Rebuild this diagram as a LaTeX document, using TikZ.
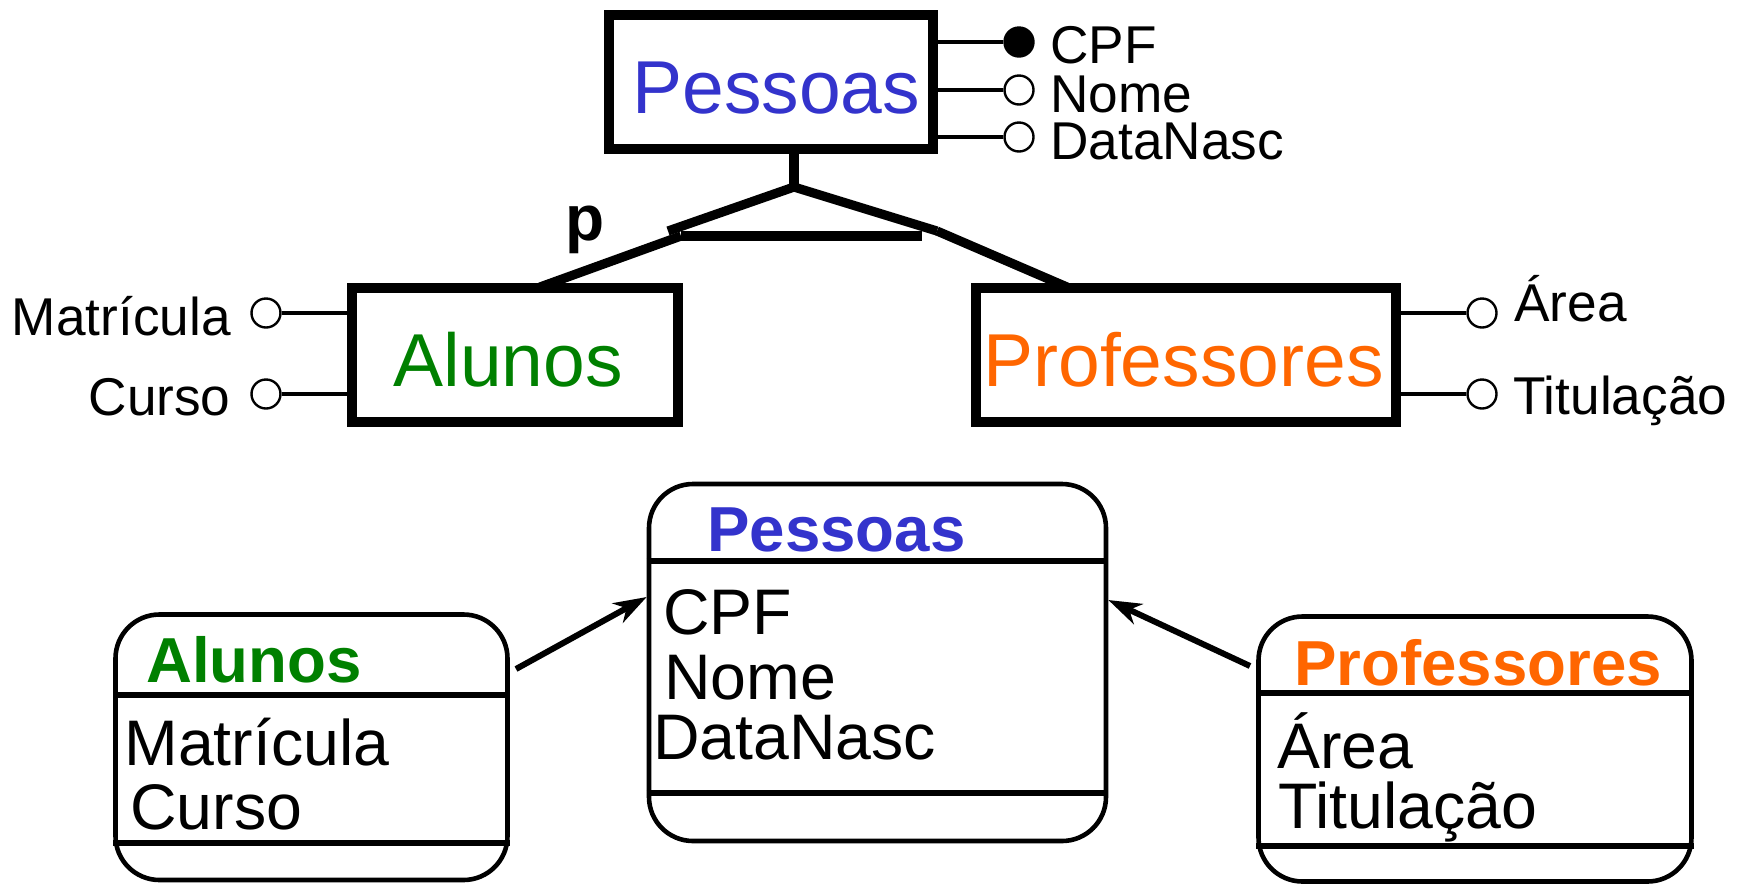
\documentclass[tikz,border=0pt]{standalone}
\usepackage{fontspec}
\setmainfont{Liberation Sans}
\usetikzlibrary{arrows.meta}
\definecolor{pblue}{RGB}{51,51,204}
\definecolor{agreen}{RGB}{0,128,0}
\definecolor{porange}{RGB}{255,102,0}
\begin{document}
\begin{tikzpicture}[x=0.5pt,y=-0.5pt,
  entbox/.style={draw, line width=5pt, inner sep=0, minimum height=67pt},
  attrc/.style={draw, circle, line width=1.2pt, fill=white, inner sep=0, minimum size=14.5pt},
  keyc/.style={attrc, fill=black},
  attrline/.style={line width=1.8pt},
  spec/.style={line width=4.6pt},
  attrtxt/.style={inner sep=0, font=\fontsize{26.6pt}{30pt}\selectfont},
  etitle/.style={inner sep=0, font=\fontsize{37.5pt}{42pt}\selectfont},
  umlbox/.style={draw, line width=2.3pt, rounded corners=22pt, inner sep=0},
  umldiv/.style={line width=2.8pt},
  btitle/.style={inner sep=0, font=\bfseries\fontsize{31.8pt}{36pt}\selectfont},
  battr/.style={inner sep=0, font=\fontsize{32.2pt}{36pt}\selectfont},
  isa/.style={line width=3pt, -{Stealth[length=16.5pt, width=11pt, inset=5pt]}}
]
\useasboundingbox (0,0) rectangle (1737,885);

% ---------- ER diagram ----------
\node[entbox, minimum width=162pt] (pes) at (771,82) {};
\node[etitle, anchor=base west, text=pblue] (pest) at (632,113) {Pessoas};
\node[entbox, minimum width=163pt] (alu) at (515,354.5) {};
\node[etitle, anchor=base west, text=agreen] (alut) at (393,386) {Alunos};
\node[entbox, minimum width=210pt] (pro) at (1186,354.5) {};
\node[etitle, anchor=base west, text=porange] (prot) at (983,386) {Professores};

% attributes of Pessoas
\node[keyc] (cpfc) at (1019,42) {};
\node[attrc] (nomc) at (1019,90) {};
\node[attrc] (datc) at (1019,137) {};
\draw[attrline] (pes.east |- cpfc) -- (cpfc);
\draw[attrline] (pes.east |- nomc) -- (nomc);
\draw[attrline] (pes.east |- datc) -- (datc);
\node[attrtxt, anchor=base west] (cpft) at (1050,63) {CPF};
\node[attrtxt, anchor=base west] (nomt) at (1050,112) {Nome};
\node[attrtxt, anchor=base west] (datt) at (1050,159) {DataNasc};

% attributes of Alunos
\node[attrc] (matc) at (266,313) {};
\node[attrc] (curc) at (266,394) {};
\draw[attrline] (matc) -- (alu.west |- matc);
\draw[attrline] (curc) -- (alu.west |- curc);
\node[attrtxt, anchor=base east] (matt) at (231,335) {Matrícula};
\node[attrtxt, anchor=base east] (curt) at (231,415) {Curso};

% attributes of Professores
\node[attrc] (arec) at (1482,313) {};
\node[attrc] (titc) at (1482,394) {};
\draw[attrline] (pro.east |- arec) -- (arec);
\draw[attrline] (pro.east |- titc) -- (titc);
\node[attrtxt, anchor=base west] (aret) at (1514,321) {Área};
\node[attrtxt, anchor=base west] (titt) at (1513,414) {Titulação};

% specialization
\coordinate (apex) at (794,187);
\coordinate (tl) at (668,231);
\coordinate (tr) at (937,231);
\coordinate (bl) at (681,236);
\coordinate (br) at (922,236);
\coordinate (ol) at (540,287);
\coordinate (or) at (1067,287);
\draw[spec] (apex |- pes.south) -- (apex);
\draw[spec] (tl) -- (apex) -- (tr);
\draw[spec] (bl) -- (br);
\draw[spec] (bl) -- (ol);
\draw[spec] (tr) -- (or);
\node[inner sep=0, anchor=base west, font=\bfseries\fontsize{32pt}{36pt}\selectfont] (plab) at (565,240) {p};

% ---------- class diagram ----------
\node[umlbox, minimum width=228.5pt, minimum height=178.5pt] (pes2) at (877.5,662.5) {};
\coordinate (pd1) at (0,561);
\coordinate (pd2) at (0,793);
\draw[umldiv] (pes2.west |- pd1) -- (pes2.east |- pd1);
\draw[umldiv] (pes2.west |- pd2) -- (pes2.east |- pd2);
\node[btitle, anchor=base west, text=pblue] (pes2t) at (707,551) {Pessoas};
\node[battr, anchor=base west] (pes2a) at (663,634) {CPF};
\node[battr, anchor=base west] (pes2b) at (664,699) {Nome};
\node[battr, anchor=base west] (pes2c) at (653,759) {DataNasc};

\node[umlbox, minimum width=196pt, minimum height=132.75pt] (alu2) at (311.5,747.25) {};
\coordinate (ad1) at (0,695);
\coordinate (ad2) at (0,843);
\draw[umldiv] (alu2.west |- ad1) -- (alu2.east |- ad1);
\draw[umldiv] (alu2.west |- ad2) -- (alu2.east |- ad2);
\node[btitle, anchor=base west, text=agreen] (alu2t) at (146,682) {Alunos};
\node[battr, anchor=base west] (alu2a) at (124,765) {Matrícula};
\node[battr, anchor=base west] (alu2b) at (130,829) {Curso};

\node[umlbox, minimum width=216.5pt, minimum height=132.5pt] (pro2) at (1475,749) {};
\coordinate (prd1) at (0,693);
\coordinate (prd2) at (0,846);
\draw[umldiv] (pro2.west |- prd1) -- (pro2.east |- prd1);
\draw[umldiv] (pro2.west |- prd2) -- (pro2.east |- prd2);
\node[btitle, anchor=base west, text=porange] (pro2t) at (1294,685) {Professores};
\node[battr, anchor=base west] (pro2a) at (1277,768) {Área};
\node[battr, anchor=base west] (pro2b) at (1278,828) {Titulação};

% generalization arrows
\coordinate (a1s) at (516,669);
\coordinate (a2s) at (1250,666);
\coordinate (a1y) at (0,597);
\coordinate (a2y) at (0,600);
\draw[isa] (a1s) -- (pes2.west |- a1y);
\draw[isa] (a2s) -- (pes2.east |- a2y);
\end{tikzpicture}
\end{document}
